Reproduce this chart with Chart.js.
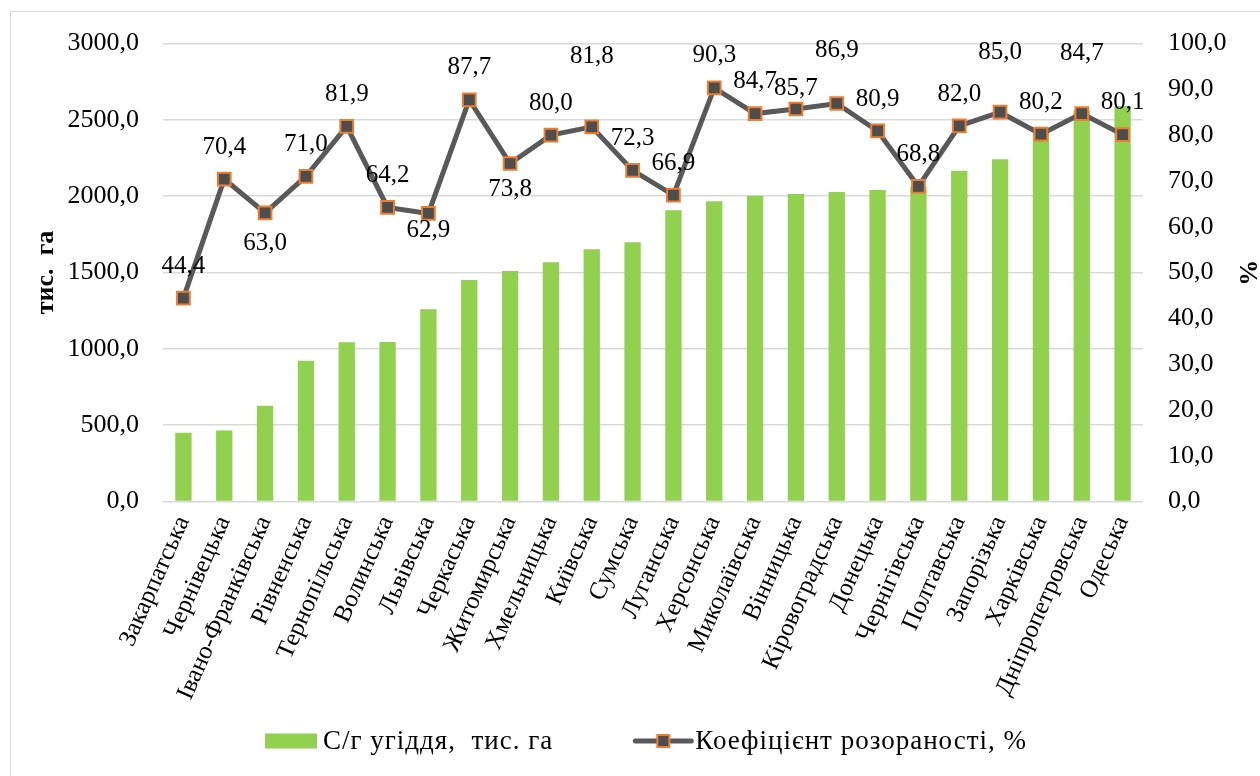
<!DOCTYPE html>
<html lang="uk">
<head>
<meta charset="utf-8">
<title>С/г угіддя та коефіцієнт розораності за областями</title>
<script src="https://cdn.jsdelivr.net/npm/chart.js@4.4.1/dist/chart.umd.min.js"></script>
<style>
  html, body { margin: 0; padding: 0; background: #ffffff; overflow: hidden; }
  #wrap { position: relative; width: 1260px; height: 776px; }
  #frame { position: absolute; left: 10px; top: 11px; width: 1300px; height: 820px;
           border: 1px solid #d9d9d9; box-sizing: border-box; pointer-events: none; }
  canvas { position: absolute; left: 0; top: 0; }
</style>
</head>
<body>
<div id="wrap">
  <canvas id="chart" width="1260" height="776"></canvas>
  <div id="frame"></div>
</div>
<script>
// Області України
const regions = [
  'Закарпатська', 'Чернівецька', 'Івано-Франківська', 'Рівненська', 'Тернопільська',
  'Волинська', 'Львівська', 'Черкаська', 'Житомирська', 'Хмельницька', 'Київська',
  'Сумська', 'Луганська', 'Херсонська', 'Миколаївська', 'Вінницька', 'Кіровоградська',
  'Донецька', 'Чернігівська', 'Полтавська', 'Запорізька', 'Харківська',
  'Дніпропетровська', 'Одеська'
];

// Сільськогосподарські угіддя, тис. га
const farmland = [
  450, 465, 628, 922, 1043, 1045, 1259, 1451, 1510, 1567, 1652, 1698,
  1907, 1966, 2003, 2014, 2027, 2040, 2060, 2167, 2241, 2420, 2560, 2590
];

// Коефіцієнт розораності, %
const plowedRatio = [
  44.4, 70.4, 63.0, 71.0, 81.9, 64.2, 62.9, 87.7, 73.8, 80.0, 81.8, 72.3,
  66.9, 90.3, 84.7, 85.7, 86.9, 80.9, 68.8, 82.0, 85.0, 80.2, 84.7, 80.1
];

// Шкали осей
const leftTicks = { min: 0, max: 3000, step: 500 };
const rightTicks = { min: 0, max: 100, step: 10 };

const seriesNames = ['С/г угіддя,  тис. га', 'Коефіцієнт розораності, %'];
const axisTitles = ['тис.  га', '%'];

// Vertical shift of individual value labels (px); others sit 32px above the point
const labelShift = { 2: 30, 6: 17, 8: 26, 10: -70, 15: -21, 16: -53, 20: -60, 22: -60 };

const FONT = '"Liberation Serif", "Times New Roman", serif';
const BAR_GREEN = '#92d050';
const LINE_GREY = '#595959';
const MARK_FILL = '#4d4d4d';
const MARK_EDGE = '#ed7d31';
const fmt = v => Number(v).toFixed(1).replace('.', ',');

// Value labels above the line points
const valueLabels = {
  id: 'valueLabels',
  afterDatasetsDraw(chart) {
    const meta = chart.getDatasetMeta(1);
    const ctx = chart.ctx;
    ctx.save();
    ctx.font = '25px ' + FONT;
    ctx.fillStyle = '#000000';
    ctx.textAlign = 'center';
    ctx.textBaseline = 'middle';
    meta.data.forEach((pt, i) => {
      const dy = (i in labelShift) ? labelShift[i] : -32;
      ctx.fillText(fmt(plowedRatio[i]), pt.x, pt.y + dy);
    });
    ctx.restore();
  }
};

// Legend row under the axis labels
const bottomLegend = {
  id: 'bottomLegend',
  afterDraw(chart) {
    const ctx = chart.ctx;
    ctx.save();
    ctx.font = '27px ' + FONT;
    if ('letterSpacing' in ctx) ctx.letterSpacing = '1px';
    ctx.textBaseline = 'middle';
    ctx.textAlign = 'left';
    const y = 741;
    const boxW = 52, boxH = 15, lineW = 56;
    const w1 = ctx.measureText(seriesNames[0]).width;
    const w2 = ctx.measureText(seriesNames[1]).width;
    const total = boxW + 6 + w1 + 82 + lineW + 4 + w2;
    let x = 646 - total / 2;

    ctx.fillStyle = BAR_GREEN;
    ctx.fillRect(x, y - boxH / 2, boxW, boxH);
    x += boxW + 6;
    ctx.fillStyle = '#000000';
    ctx.fillText(seriesNames[0], x, y + 1);
    x += w1 + 82;

    ctx.strokeStyle = LINE_GREY;
    ctx.lineWidth = 5;
    ctx.lineCap = 'round';
    ctx.beginPath();
    ctx.moveTo(x, y);
    ctx.lineTo(x + lineW, y);
    ctx.stroke();
    ctx.fillStyle = MARK_FILL;
    ctx.strokeStyle = MARK_EDGE;
    ctx.lineWidth = 2;
    ctx.fillRect(x + lineW / 2 - 6, y - 6, 12, 12);
    ctx.strokeRect(x + lineW / 2 - 6, y - 6, 12, 12);
    x += lineW + 4;
    ctx.fillStyle = '#000000';
    ctx.fillText(seriesNames[1], x, y + 1);
    ctx.restore();
  }
};

new Chart(document.getElementById('chart'), {
  type: 'bar',
  data: {
    labels: regions,
    datasets: [
      {
        type: 'bar',
        label: seriesNames[0],
        data: farmland,
        yAxisID: 'y',
        backgroundColor: BAR_GREEN,
        categoryPercentage: 1.0,
        barPercentage: 0.4,
        order: 2
      },
      {
        type: 'line',
        label: seriesNames[1],
        data: plowedRatio,
        yAxisID: 'y1',
        borderColor: LINE_GREY,
        borderWidth: 5,
        tension: 0,
        pointStyle: 'rect',
        pointRadius: 9,
        pointBorderWidth: 2,
        pointBackgroundColor: MARK_FILL,
        pointBorderColor: MARK_EDGE,
        order: 1
      }
    ]
  },
  options: {
    responsive: false,
    animation: false,
    devicePixelRatio: 1,
    layout: { padding: { left: 0, right: 0, top: 43.5, bottom: 0 } },
    plugins: {
      legend: { display: false },
      tooltip: { enabled: false }
    },
    scales: {
      x: {
        grid: { display: false, drawTicks: false },
        border: { display: false },
        ticks: {
          color: '#000000',
          font: { family: FONT, size: 25 },
          minRotation: 66,
          maxRotation: 66,
          autoSkip: false,
          padding: 10
        },
        afterFit(scale) { scale.height = 274.5; }
      },
      y: {
        position: 'left',
        min: leftTicks.min,
        max: leftTicks.max,
        grid: { color: '#d9d9d9', lineWidth: 1.5, drawTicks: false },
        border: { display: false },
        ticks: {
          stepSize: leftTicks.step,
          color: '#000000',
          font: { family: FONT, size: 26 },
          padding: 24,
          callback: v => fmt(v)
        },
        title: {
          display: true,
          text: axisTitles[0],
          color: '#000000',
          font: { family: FONT, size: 26, weight: 'bold', lineHeight: 1 },
          padding: { top: 33, bottom: 0 }
        },
        afterFit(scale) { scale.width = 163; }
      },
      y1: {
        position: 'right',
        min: rightTicks.min,
        max: rightTicks.max,
        grid: { display: false, drawTicks: false },
        border: { display: false },
        ticks: {
          stepSize: rightTicks.step,
          color: '#000000',
          font: { family: FONT, size: 26 },
          padding: 25,
          callback: v => fmt(v)
        },
        title: {
          display: true,
          text: axisTitles[1],
          color: '#000000',
          font: { family: FONT, size: 26, weight: 'bold', lineHeight: 1 },
          padding: { top: 0, bottom: 0 }
        },
        afterFit(scale) { scale.width = 117; }
      }
    }
  },
  plugins: [valueLabels, bottomLegend]
});
</script>
</body>
</html>
